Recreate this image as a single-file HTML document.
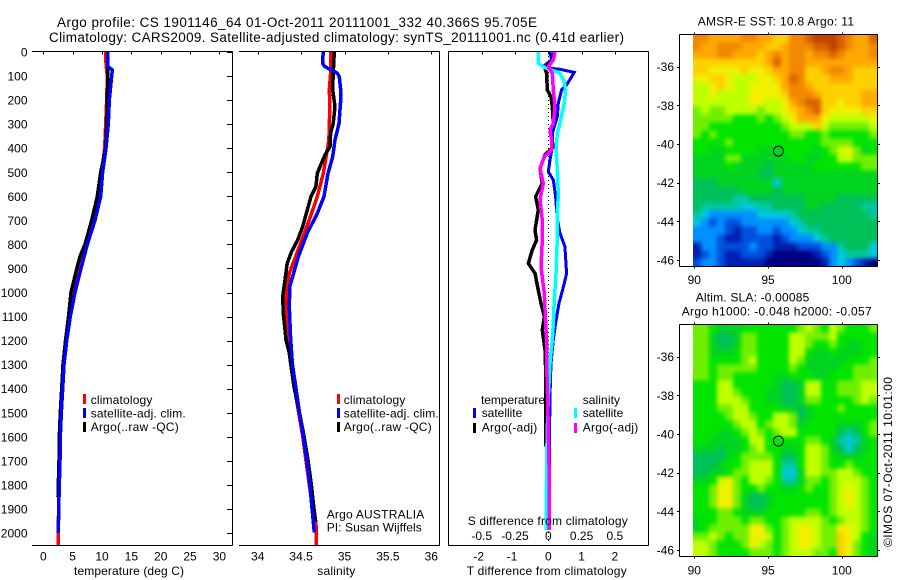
<!DOCTYPE html>
<html lang="en">
<head>
<meta charset="utf-8">
<title>Argo profile 1901146_64</title>
<style>
html,body{margin:0;padding:0;background:#fff;}
svg{display:block;font-family:"Liberation Sans",sans-serif;font-size:12px;fill:#000;}
</style>
</head>
<body>
<svg id="fig" xmlns="http://www.w3.org/2000/svg" width="900" height="580" viewBox="0 0 900 580">
  <defs>
    <clipPath id="clipMap1"><rect x="693" y="34.5" width="184.5" height="232"/></clipPath>
    <clipPath id="clipMap2"><rect x="693" y="324.5" width="184.5" height="232"/></clipPath>
    <filter id="smoothSst" filterUnits="userSpaceOnUse" x="660" y="0" width="240" height="300" color-interpolation-filters="sRGB"><feGaussianBlur stdDeviation="2"/></filter>
    <filter id="smoothSla" filterUnits="userSpaceOnUse" x="660" y="290" width="240" height="290" color-interpolation-filters="sRGB"><feGaussianBlur stdDeviation="2"/></filter>
  </defs>
  <rect x="0" y="0" width="900" height="580" fill="#fff"/>
  <text x="57" y="27" textLength="480" lengthAdjust="spacing" font-size="13.5">Argo profile: CS 1901146_64 01-Oct-2011 20111001_332 40.366S 95.705E</text>
  <text x="49" y="42" textLength="575" lengthAdjust="spacing" font-size="13.5">Climatology: CARS2009. Satellite-adjusted climatology: synTS_20111001.nc (0.41d earlier)</text>

  <g id="axes"></g>
  <g id="series1"></g>
  <g id="series2"></g>
  <g id="series3"></g>
  <g clip-path="url(#clipMap1)"><g id="map1" filter="url(#smoothSst)"></g></g>
  <g clip-path="url(#clipMap2)"><g id="map2" filter="url(#smoothSla)"></g></g>
  <g id="mapAxes"></g>

  <text x="74" y="575" textLength="110" lengthAdjust="spacing">temperature (deg C)</text>
  <text x="317.3" y="575" textLength="38" lengthAdjust="spacing">salinity</text>
  <text x="466.7" y="575" textLength="160" lengthAdjust="spacing">T difference from climatology</text>
  <text x="467.7" y="525" textLength="160" lengthAdjust="spacing">S difference from climatology</text>

  <g>
    <rect x="83" y="394" width="3" height="10" fill="#ff0000"/>
    <rect x="83" y="408" width="3" height="10" fill="#0000ff"/>
    <rect x="83" y="422" width="3" height="10" fill="#000000"/>
    <text x="90.7" y="404" textLength="61.7" lengthAdjust="spacing">climatology</text>
    <text x="90.7" y="417.5" textLength="95" lengthAdjust="spacing">satellite-adj. clim.</text>
    <text x="90.7" y="431" textLength="88" lengthAdjust="spacing">Argo(..raw -QC)</text>
  </g>
  <g>
    <rect x="337" y="394" width="3" height="10" fill="#ff0000"/>
    <rect x="337" y="408" width="3" height="10" fill="#0000ff"/>
    <rect x="337" y="422" width="3" height="10" fill="#000000"/>
    <text x="343.7" y="404" textLength="61.7" lengthAdjust="spacing">climatology</text>
    <text x="343.7" y="417.5" textLength="95" lengthAdjust="spacing">satellite-adj. clim.</text>
    <text x="343.7" y="431" textLength="88" lengthAdjust="spacing">Argo(..raw -QC)</text>
  </g>
  <text x="326.7" y="518.3" textLength="97.6" lengthAdjust="spacing">Argo AUSTRALIA</text>
  <text x="326.7" y="531.7" textLength="95" lengthAdjust="spacing">PI: Susan Wijffels</text>

  <g>
    <text x="481" y="404" textLength="64" lengthAdjust="spacing">temperature</text>
    <text x="582.7" y="404" textLength="37.3" lengthAdjust="spacing">salinity</text>
    <rect x="473" y="408" width="3" height="10" fill="#0000ff"/>
    <rect x="473" y="423" width="3" height="10" fill="#000000"/>
    <rect x="574" y="408" width="3" height="10" fill="#00ffff"/>
    <rect x="574" y="423" width="3" height="10" fill="#ff00ff"/>
    <text x="481.7" y="417" textLength="40.6" lengthAdjust="spacing">satellite</text>
    <text x="481.7" y="431.5" textLength="55.6" lengthAdjust="spacing">Argo(-adj)</text>
    <text x="582.7" y="417" textLength="40.6" lengthAdjust="spacing">satellite</text>
    <text x="582.7" y="431.5" textLength="55.6" lengthAdjust="spacing">Argo(-adj)</text>
  </g>

  <text x="697.7" y="25.7" textLength="156.3" lengthAdjust="spacing">AMSR-E SST: 10.8 Argo: 11</text>
  <text x="695.7" y="301.7" textLength="113.6" lengthAdjust="spacing">Altim. SLA: -0.00085</text>
  <text x="681.7" y="315.7" textLength="190" lengthAdjust="spacing">Argo h1000: -0.048 h2000: -0.057</text>
  <text transform="translate(892 547) rotate(-90)" textLength="170" lengthAdjust="spacing">©IMOS 07-Oct-2011 10:01:00</text>
</svg>

<script>
// ---- axis tick labels ----
const depthTicks = [0,100,200,300,400,500,600,700,800,900,1000,1100,1200,1300,1400,1500,1600,1700,1800,1900,2000];
const tempTicks = [0,5,10,15,20,25,30];
const salTicks = [34,34.5,35,35.5,36];
const tDiffTicks = [-2,-1,0,1,2];
const sDiffTicks = [-0.5,-0.25,0,0.25,0.5];
const lonTicks = [90,95,100];
const latTicks = [-36,-38,-40,-42,-44,-46];

// ---- temperature panel (depth m, deg C) ----
const tempSatDepth = [0,60,75,100,200,300,400,500,600,700,800,900,1000,1100,1200,1300,1400,1500,1600,1700,1800,1900,2000];
const tempSatValues = [10.97,10.97,11.76,11.65,11.25,11.07,10.68,10.1,9.78,8.8,7.5,6.42,5.4,4.6,3.98,3.52,3.3,3.07,2.9,2.85,2.73,2.62,2.56];
const tempArgoDepth = [0,60,75,100,200,300,400,500,600,700,800,850,900,1000,1100,1200,1300,1400,1500,1600,1700,1800,1850];
const tempArgoValues = [10.97,10.97,10.97,10.97,10.92,10.8,10.63,9.78,9.2,8.25,7.1,6.25,5.7,4.72,4.3,3.78,3.35,3.13,2.9,2.73,2.68,2.55,2.5];
const tempClimDepth = [0,60,75,100,200,300,400,500,600,700,800,900,1000,1100,1200,1300,1400,1500,1600,1700,1800,1900,2000,2050];
const tempClimValues = [10.63,10.7,10.8,10.9,10.8,10.63,10.46,9.95,9.37,8.52,7.27,6.08,5.11,4.4,3.8,3.4,3.2,3.0,2.85,2.78,2.68,2.6,2.56,2.56];

// ---- salinity panel (depth m, PSU) ----
const salSatDepth = [0,30,47,58,68,75,82,90,103,158,200,297,366,435,505,601,671,754,851,976,1059,1197,1297,1397,1497,1597,1697,1797,1897,1997];
const salSatValues = [34.756,34.749,34.749,34.765,34.81,34.86,34.89,34.92,34.94,34.956,34.956,34.937,34.89,34.864,34.81,34.764,34.687,34.57,34.468,34.37,34.364,34.38,34.40,34.44,34.48,34.525,34.565,34.60,34.626,34.652];
const salClimDepth = [0,89,158,227,297,366,421,505,601,698,782,851,920,990,1059,1197,1297,1397,1497,1597,1697,1797,1897,1960,1997,2050];
const salClimValues = [34.84,34.84,34.825,34.833,34.825,34.82,34.795,34.756,34.687,34.595,34.507,34.437,34.364,34.334,34.326,34.353,34.39,34.425,34.47,34.518,34.555,34.593,34.635,34.671,34.675,34.675];
const salArgoDepth = [0,89,158,227,297,338,394,428,477,505,560,601,657,726,782,830,879,948,1017,1087,1156,1197,1252,1297,1397,1497,1597,1697,1797,1897,1953];
const salArgoValues = [34.883,34.87,34.864,34.89,34.87,34.84,34.833,34.775,34.718,34.687,34.671,34.614,34.572,34.518,34.46,34.39,34.34,34.315,34.288,34.295,34.315,34.326,34.364,34.38,34.42,34.48,34.533,34.58,34.618,34.648,34.668];

// ---- difference panel ----
const tDiffSatDepth = [0,33,54,68,72,85,137,158,213,269,338,394,449,498,532,601,685,754,809,920,962,1045,1128,1197,1295,1433,1572,1710,1988];
const tDiffSatValues = [0.05,0.1,-0.1,0.1,0.35,0.78,0.55,0.4,0.3,0.27,0.12,0.12,0.05,0,0.15,0.22,0.26,0.35,0.5,0.55,0.48,0.32,0.22,0.15,0.08,0.05,0.04,0.04,0.04];
const tDiffArgoDepth = [0,33,68,89,158,186,227,297,324,394,428,484,546,601,657,740,782,823,879,920,976,1045,1100,1156,1239,1363,1447,1641];
const tDiffArgoValues = [0.18,0.12,-0.1,-0.05,-0.03,0.08,0.12,0.15,0.05,0.15,-0.1,-0.25,-0.18,-0.38,-0.3,-0.4,-0.35,-0.48,-0.6,-0.4,-0.32,-0.22,-0.12,-0.18,-0.1,-0.07,-0.08,-0.08];
const sDiffSatDepth = [0,47,61,75,89,123,158,213,297,338,407,505,601,685,809,920,1031,1128,1197,1295,1433,1572,1710,1988];
const sDiffSatValues = [-0.075,-0.075,-0.0375,0.025,0.0875,0.12,0.13,0.12,0.0875,0.0675,0.0575,0.07,0.075,0.065,0.065,0.0575,0.045,0.0375,0.03,0.0125,0,-0.0075,-0.0125,-0.015];
const sDiffArgoDepth = [0,33,61,89,158,227,297,324,366,407,435,484,546,615,698,782,893,1003,1128,1197,1295,1433,1572,1710,1988];
const sDiffArgoValues = [0.05,0.0375,0,0.03,0.0375,0.05,0.0375,0.0125,0.025,0.025,-0.03,-0.0625,-0.0375,-0.0625,-0.045,-0.045,-0.055,-0.03,-0.02,-0.0125,-0.0125,-0.005,0,0.005,0.0075];

// ---- float position ----
const floatLon = [95.705];
const floatLat = [-40.366];

// ---- map cell values (colour levels, north to south) ----
const sstRows = [
[14,14,13,13,13,13,14,14,13,13,12,12,14,14,15,16,16,16,15,14,13,13,15],
[14,13,13,14,14,14,13,13,13,12,12,13,14,14,14,15,15,16,15,14,13,13,14],
[13,13,13,14,14,13,13,13,12,13,14,13,14,14,13,14,14,15,14,13,13,13,14],
[12,12,12,12,12,12,12,12,12,13,15,13,14,14,13,13,13,13,13,13,13,13,13],
[12,12,11,11,11,11,12,11,11,12,13,13,14,14,12,12,13,14,14,13,12,12,12],
[11,11,12,12,11,10,10,10,11,11,12,13,15,14,12,12,12,13,13,13,12,12,12],
[10,10,11,12,11,10,10,11,11,11,11,13,14,14,13,12,12,12,12,12,12,12,12],
[10,10,11,10,10,10,10,11,11,11,11,12,14,14,14,13,12,12,12,12,12,13,13],
[10,10,10,10,10,10,10,11,11,10,10,11,13,14,15,15,12,12,11,12,12,13,13],
[9,10,9,9,10,10,10,10,9,10,10,11,12,13,14,15,12,11,11,11,11,12,12],
[9,9,9,9,9,8,8,8,9,8,9,10,11,13,13,13,11,10,10,10,10,10,11],
[9,9,8,8,8,8,8,8,8,8,8,9,10,10,10,12,10,9,9,9,9,9,10],
[9,8,9,8,8,8,8,8,8,8,8,8,9,9,8,8,9,8,8,8,8,8,9],
[8,8,8,8,9,8,8,8,8,8,8,8,8,8,8,8,9,9,9,9,8,8,8],
[8,8,7,7,8,8,8,8,7,7,7,8,8,8,8,7,8,9,10,11,9,7,8],
[7,7,7,7,9,9,7,7,7,7,7,7,8,8,7,7,8,8,10,10,9,9,9],
[7,7,7,7,8,7,7,7,7,6,7,7,7,7,7,8,8,8,8,8,8,9,9],
[7,7,7,7,7,7,7,7,6,6,7,7,7,7,7,7,7,7,7,7,7,7,7],
[6,6,6,7,7,7,7,7,7,7,4,7,7,7,7,7,7,7,7,7,7,7,7],
[6,6,6,6,6,6,7,7,7,7,6,7,7,7,7,7,7,7,7,7,7,7,7],
[6,6,6,6,6,5,5,6,6,6,6,6,6,6,7,7,7,7,6,6,6,6,6],
[6,5,5,5,5,5,4,4,5,5,6,6,6,6,7,7,6,6,6,6,6,5,5],
[5,4,3,3,3,3,3,3,4,4,4,4,5,6,6,6,6,6,6,6,6,6,5],
[4,3,2,3,2,2,3,3,3,3,3,3,4,5,6,6,6,6,6,6,6,6,6],
[3,3,3,3,2,1,2,2,3,3,2,3,3,4,5,5,6,6,6,6,6,6,6],
[3,3,3,2,1,1,2,2,2,2,1,2,3,3,3,4,5,6,6,6,6,6,6],
[1,3,3,2,2,2,2,3,2,2,1,1,1,2,2,2,3,3,5,6,6,6,4],
[1,2,3,2,1,1,2,2,2,1,0,0,0,0,0,1,2,3,4,5,5,5,4],
[2,3,3,2,1,1,1,1,1,0,0,0,0,0,0,0,1,3,4,3,2,1,0]
];
const slaRows = [
[9,9,8,7,7,7,8,8,8,8,8,8,8,9,10,9,8,10,9,8,8,8,9],
[9,9,7,6,6,7,9,9,8,8,8,8,10,10,9,9,9,10,8,8,8,8,8],
[9,9,7,6,6,7,9,9,8,8,8,8,10,10,9,8,8,9,8,7,7,8,8],
[9,9,7,7,7,8,9,9,8,8,8,8,10,10,8,7,7,8,7,7,7,8,8],
[9,9,8,8,8,8,9,10,8,8,8,8,10,9,7,7,7,7,7,8,8,8,9],
[9,9,8,9,9,9,9,9,8,8,8,8,9,8,7,7,7,7,8,8,9,9,9],
[9,9,8,9,9,8,8,8,8,8,7,7,8,8,8,7,7,8,8,8,9,9,9],
[8,8,8,10,10,8,8,8,8,8,7,6,6,7,10,10,8,8,9,9,9,10,10],
[8,8,8,10,10,9,8,8,8,7,7,6,6,7,10,10,8,8,9,9,9,10,10],
[8,8,8,10,10,10,9,8,8,7,7,6,6,7,9,9,8,8,8,8,9,10,9],
[8,8,8,9,9,10,10,8,8,8,8,7,7,6,7,8,8,8,9,8,8,8,8],
[8,8,8,8,9,10,10,9,8,8,10,10,9,6,7,8,8,8,8,8,8,8,8],
[8,8,8,8,8,9,10,10,8,9,10,10,9,7,8,8,8,8,7,7,7,8,9],
[8,8,8,7,7,8,9,10,9,8,9,10,10,8,8,8,8,8,6,5,6,8,9],
[8,8,7,7,7,7,8,10,10,8,8,8,8,8,9,9,8,7,5,4,5,7,8],
[7,7,7,6,7,7,8,9,10,8,8,7,7,8,10,10,9,7,6,4,6,7,8],
[6,6,6,6,7,8,9,9,9,9,8,6,6,8,10,10,9,8,7,7,7,8,8],
[6,6,6,7,8,8,9,10,10,10,8,5,5,8,10,10,9,8,8,9,8,8,8],
[6,6,7,7,8,9,9,10,10,10,8,4,4,7,10,10,9,9,10,10,9,8,8],
[7,7,8,10,11,9,8,10,10,9,8,5,5,7,9,9,8,9,10,10,10,9,8],
[8,8,9,11,11,9,8,8,9,8,8,7,7,8,9,8,8,9,10,11,10,9,8],
[8,8,9,11,11,9,7,6,6,7,8,8,8,8,8,8,8,9,10,11,10,9,8],
[8,8,9,11,11,9,7,6,6,7,8,8,8,8,8,8,8,9,10,11,10,9,8],
[8,8,8,9,9,8,7,7,7,8,8,8,8,8,9,9,8,9,10,10,10,9,8],
[7,8,8,9,9,9,8,9,9,8,8,9,10,10,10,10,9,8,9,10,10,9,8],
[7,8,9,9,9,9,9,11,11,9,8,9,10,11,11,10,9,9,11,11,10,9,8],
[9,9,10,9,8,9,9,11,11,10,8,9,10,11,11,10,9,9,12,11,10,8,7],
[10,10,9,8,8,8,9,11,10,9,8,9,10,11,11,10,9,9,12,11,9,8,7],
[10,10,9,8,8,8,8,9,9,9,8,9,10,10,10,9,9,8,12,11,9,8,7]
];

const SVGNS = 'http://www.w3.org/2000/svg';
const colorScale = ['#000080','#0020b0','#0050e0','#0090ff','#00c8e0','#00c8a0','#00c058','#00d420','#00e400','#70f000','#c0ff00','#f0f000','#ffd000','#ffa800','#f08800','#d86000','#c04000'];

// axis functions
function yDepth(d){ return 52 + d * 0.2405; }
function xTemp(t){ return 43.3 + t * 5.87; }
function xSal(s){ return 257.7 + (s - 34) * 86.8; }
function xTDiff(t){ return 548.3 + t * 33.3; }
function xSDiff(s){ return 548.3 + s * 133.2; }
function xLon(l){ return 694.3 + (l - 90) * 14.75; }
function yLat1(l){ return 66.7 + (-36 - l) * 19.33; }
function yLat2(l){ return 356.7 + (-36 - l) * 19.33; }

function el(tag, parent, attrs){
  const e = document.createElementNS(SVGNS, tag);
  for (const k in attrs) e.setAttribute(k, attrs[k]);
  parent.appendChild(e);
  return e;
}
function axisLine(parent, x1, y1, x2, y2){
  const l = el('line', parent, {x1:x1, y1:y1, x2:x2, y2:y2, stroke:'#000', 'stroke-width':1, 'shape-rendering':'crispEdges'});
  
  
  return l;
}
function tick(parent, x1, y1, x2, y2){
  const l = el('line', parent, {x1:x1, y1:y1, x2:x2, y2:y2, stroke:'#000', 'stroke-width':1, 'shape-rendering':'crispEdges'});
  
  
  return l;
}
function label(parent, x, y, s, anchor){
  const t = el('text', parent, {x:x, y:y, 'text-anchor':anchor});
  t.textContent = s;
  
  
  return t;
}
function profile(parent, depths, values, xf, color, width, name){
  const pts = depths.map(function(d, i){ return xf(values[i]).toFixed(1) + ',' + yDepth(d).toFixed(1); }).join(' ');
  const p = el('polyline', parent, {points:pts, fill:'none', stroke:color, 'stroke-width':width, 'stroke-linejoin':'miter', 'shape-rendering':'crispEdges'});
  
  
  return p;
}

// ---- profile axes ----
const axes = document.getElementById('axes');
const T0 = 51.5, B0 = 545.5;
axisLine(axes, 32, T0, 232.5, T0);
axisLine(axes, 32, B0, 232.5, B0);
axisLine(axes, 232.5, T0, 232.5, B0);
axisLine(axes, 239, T0, 439.5, T0);
axisLine(axes, 239, B0, 439.5, B0);
axisLine(axes, 439.5, T0, 439.5, B0);
axisLine(axes, 448.5, T0, 648.5, T0);
axisLine(axes, 448.5, B0, 648.5, B0);
axisLine(axes, 448.5, T0, 448.5, B0);
axisLine(axes, 648.5, T0, 648.5, B0);

depthTicks.forEach(function(d){
  const y = yDepth(d);
  tick(axes, 227, Math.round(y) + 0.5, 232, Math.round(y) + 0.5);
  label(axes, 27.5, y + 4.5, String(d), 'end');
});
tempTicks.forEach(function(v){
  const x = xTemp(v);
  tick(axes, Math.round(x) + 0.5, T0, Math.round(x) + 0.5, T0 + 3);
  label(axes, x, 560.7, String(v), 'middle');
});
salTicks.forEach(function(v){
  const x = xSal(v);
  tick(axes, Math.round(x) + 0.5, T0, Math.round(x) + 0.5, T0 + 3);
  label(axes, x, 560.7, String(v), 'middle');
});
tDiffTicks.forEach(function(v){
  const x = xTDiff(v);
  tick(axes, Math.round(x) + 0.5, T0, Math.round(x) + 0.5, T0 + 3);
  label(axes, x - (v < 0 ? 3 : 0), 560.7, String(v), 'middle');
});
sDiffTicks.forEach(function(v){
  const x = xSDiff(v);
  label(axes, x, 540, String(v), 'middle');
});

// ---- temperature series ----
const s1 = document.getElementById('series1');
profile(s1, tempClimDepth, tempClimValues, xTemp, '#ff0000', 3.5, 'temperature-climatology-line');
profile(s1, tempArgoDepth, tempArgoValues, xTemp, '#000000', 3.5, 'temperature-argo-line');
profile(s1, tempSatDepth, tempSatValues, xTemp, '#0000ff', 3.5, 'temperature-satellite-line');

// ---- salinity series ----
const s2 = document.getElementById('series2');
profile(s2, salClimDepth, salClimValues, xSal, '#ff0000', 3.5, 'salinity-climatology-line');
profile(s2, salArgoDepth, salArgoValues, xSal, '#000000', 3.5, 'salinity-argo-line');
profile(s2, salSatDepth, salSatValues, xSal, '#0000ff', 3.5, 'salinity-satellite-line');

// ---- difference series ----
const s3 = document.getElementById('series3');
const zero = el('line', s3, {x1:548.5, y1:yDepth(0), x2:548.5, y2:yDepth(2040), stroke:'#000', 'stroke-width':1, 'stroke-dasharray':'1 3', 'shape-rendering':'crispEdges'});


profile(s3, tDiffSatDepth, tDiffSatValues, xTDiff, '#0000ff', 3, 'temperature-difference-satellite-line');
profile(s3, tDiffArgoDepth, tDiffArgoValues, xTDiff, '#000000', 3.5, 'temperature-difference-argo-line');
profile(s3, sDiffSatDepth, sDiffSatValues, xSDiff, '#00ffff', 3.5, 'salinity-difference-satellite-line');
profile(s3, sDiffArgoDepth, sDiffArgoValues, xSDiff, '#ff00ff', 3.5, 'salinity-difference-argo-line');

// ---- heatmaps (edge cells overhang the clip so the smoothing stays opaque) ----
function drawMap(parent, rows, top, name){
  const pad = 14;
  const lastRow = rows.length - 1;
  rows.forEach(function(row, r){
    row.forEach(function(v, c){
      const x0 = 693 + c * 8 - (c === 0 ? pad : 0);
      const x1 = 693 + (c + 1) * 8 + (c === row.length - 1 ? pad : 0);
      const y0 = top + r * 8 - (r === 0 ? pad : 0);
      const y1 = top + (r + 1) * 8 + (r === lastRow ? pad : 0);
      const level = Math.max(0, Math.min(colorScale.length - 1, Math.round(v)));
      const cell = el('rect', parent, {x:x0, y:y0, width:x1 - x0 + 0.3, height:y1 - y0 + 0.3, fill:colorScale[level]});
      
      
    });
  });
}
drawMap(document.getElementById('map1'), sstRows, 34.5, 'sst-cell');
drawMap(document.getElementById('map2'), slaRows, 324.5, 'sla-cell');

// ---- map frames, ticks, labels ----
const ma = document.getElementById('mapAxes');
function mapFrame(top, bottom, yf, xLabelY){
  axisLine(ma, 679.5, top, 877.5, top);
  axisLine(ma, 679.5, bottom, 877.5, bottom);
  axisLine(ma, 679.5, top, 679.5, bottom);
  axisLine(ma, 877.5, top, 877.5, bottom);
  lonTicks.forEach(function(l){
    const x = Math.round(xLon(l)) + 0.5;
    tick(ma, x, top - 2, x, top);
    tick(ma, x, bottom, x, bottom + 2);
    label(ma, xLon(l), xLabelY, String(l), 'middle');
  });
  latTicks.forEach(function(l){
    const y = Math.round(yf(l)) + 0.5;
    tick(ma, 677, y, 679.5, y);
    tick(ma, 877.5, y, 880, y);
    label(ma, 674, yf(l) + 4.5, String(l), 'end');
  });
  const ring = el('circle', ma, {cx:xLon(floatLon[0]), cy:yf(floatLat[0]), r:5, fill:'none', stroke:'#000', 'stroke-width':1});
  
  
}
mapFrame(34.5, 266.5, yLat1, 284);
mapFrame(324.5, 556.5, yLat2, 574.5);
</script>
</body>
</html>
